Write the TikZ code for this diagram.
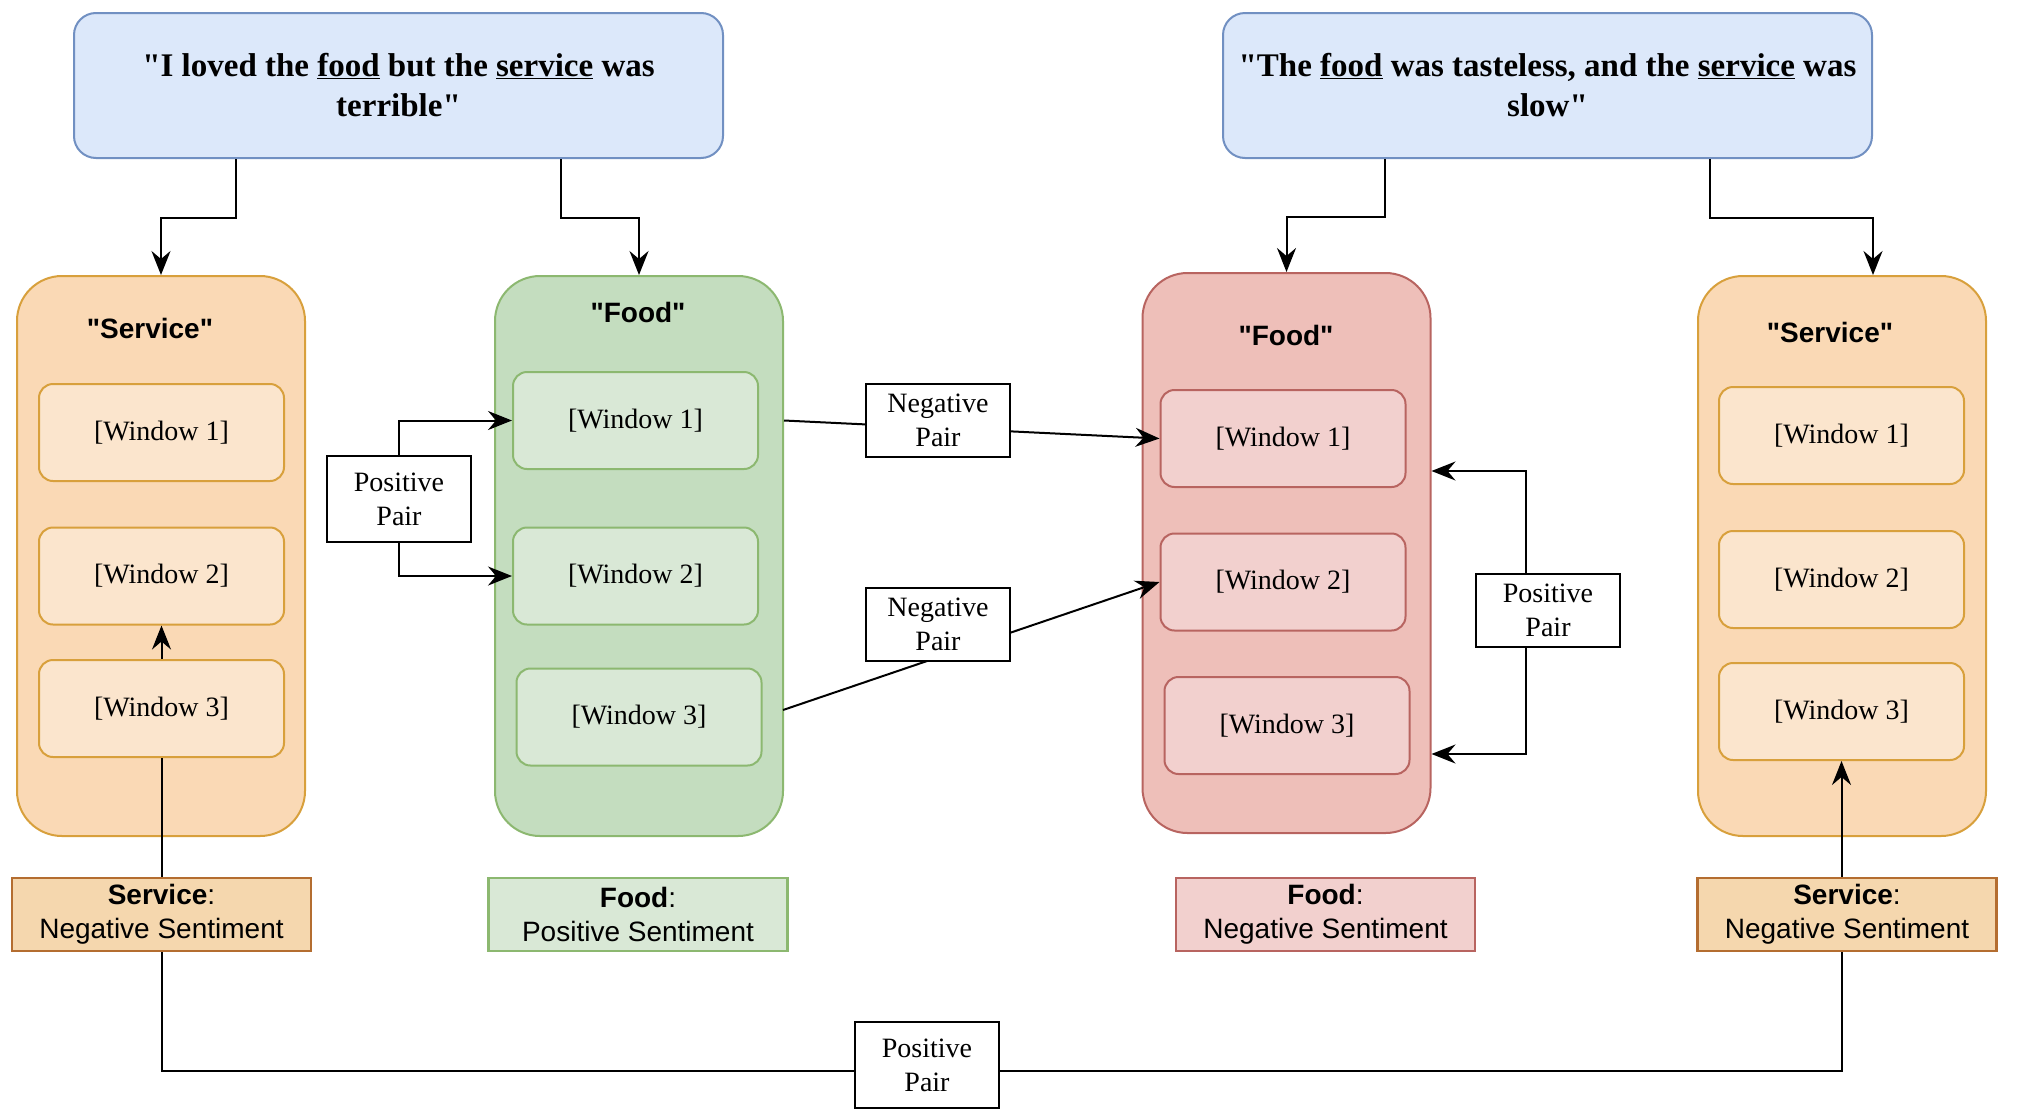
\documentclass[tikz,border=0pt]{standalone}
\usepackage{fontspec}
\setmainfont{Liberation Serif}[Ligatures=TeXOff]
\setsansfont{Liberation Sans}[Ligatures=TeXOff]
\usetikzlibrary{arrows.meta,calc}
\definecolor{sentfill}{HTML}{DCE8FA}
\definecolor{sentdraw}{HTML}{7190C2}
\definecolor{orfill}{HTML}{FAD9B5}
\definecolor{ordraw}{HTML}{D8A03C}
\definecolor{orwin}{HTML}{FBE5CD}
\definecolor{grfill}{HTML}{C4DDBF}
\definecolor{grdraw}{HTML}{8CB870}
\definecolor{grwin}{HTML}{D9E8D6}
\definecolor{rdfill}{HTML}{EEBFB9}
\definecolor{rddraw}{HTML}{B86460}
\definecolor{rdwin}{HTML}{F2D0CE}
\definecolor{seorfill}{HTML}{F5D7AE}
\definecolor{seordraw}{HTML}{B46D30}
\begin{document}
\begin{tikzpicture}[x=1pt,y=-1pt,
 sentence/.style={draw=sentdraw, fill=sentfill, line width=2pt, rounded corners=22pt, minimum width=649pt, minimum height=145pt, align=center, font=\fontsize{33}{40}\selectfont\bfseries, inner sep=0pt},
 container/.style={line width=2pt, rounded corners=45pt, minimum width=288pt, minimum height=560pt, inner sep=0pt},
 win/.style={line width=2pt, rounded corners=14pt, minimum width=245pt, minimum height=97pt, font=\fontsize{28}{34}\selectfont, inner sep=0pt},
 title/.style={font=\sffamily\bfseries\fontsize{28}{34}\selectfont},
 pairbox/.style={draw=black, fill=white, line width=2pt, minimum width=144pt, align=center, font=\fontsize{28}{34}\selectfont, inner sep=0pt},
 senti/.style={line width=2.5pt, minimum width=299pt, minimum height=73pt, align=center, font=\sffamily\fontsize{28}{34}\selectfont, inner sep=0pt},
 tip/.tip={Stealth[length=24pt,width=19pt,inset=8pt]},
 arr/.style={line width=2pt, -tip},
 conn/.style={line width=2pt}]
\fill[white] (0,0) rectangle (2018,1114);
\useasboundingbox (0,0) rectangle (2018,1114);

% sentences
\node[sentence] (S1) at (398.5,85.5) {"I loved the \underline{food} but the \underline{service} was\\terrible"};
\node[sentence] (S2) at (1547.5,85.5) {"The \underline{food} was tasteless, and the \underline{service} was\\slow"};

% containers
\node[container, draw=ordraw, fill=orfill] (C1) at (161,556) {};
\node[container, draw=grdraw, fill=grfill] (C2) at (639,556) {};
\node[container, draw=rddraw, fill=rdfill] (C3) at (1286.5,553) {};
\node[container, draw=ordraw, fill=orfill] (C4) at (1842,556) {};

\node[title] (T1) at (150,328) {"Service"};
\node[title] (T2) at (638,312) {"Food"};
\node[title] (T3) at (1286,335) {"Food"};
\node[title] (T4) at (1830,332) {"Service"};

% windows
\node[win, draw=ordraw, fill=orwin] (L1) at (161.5,432.5) {[Window 1]};
\node[win, draw=ordraw, fill=orwin] (L2) at (161.5,576) {[Window 2]};
\node[win, draw=ordraw, fill=orwin] (L3) at (161.5,708.5) {[Window 3]};
\node[win, draw=grdraw, fill=grwin] (G1) at (635.5,420.5) {[Window 1]};
\node[win, draw=grdraw, fill=grwin] (G2) at (635.5,576) {[Window 2]};
\node[win, draw=grdraw, fill=grwin] (G3) at (639,717) {[Window 3]};
\node[win, draw=rddraw, fill=rdwin] (R1) at (1283,438.5) {[Window 1]};
\node[win, draw=rddraw, fill=rdwin] (R2) at (1283,582) {[Window 2]};
\node[win, draw=rddraw, fill=rdwin] (R3) at (1287,725.5) {[Window 3]};
\node[win, draw=ordraw, fill=orwin] (V1) at (1841.5,435.5) {[Window 1]};
\node[win, draw=ordraw, fill=orwin] (V2) at (1841.5,579.5) {[Window 2]};
\node[win, draw=ordraw, fill=orwin] (V3) at (1841.5,711.5) {[Window 3]};

% sentence -> aspect
\draw[arr] ($(S1.south west)!0.25!(S1.south east)$) -- ++(0,59) -| (C1.north);
\draw[arr] ($(S1.south west)!0.75!(S1.south east)$) -- ++(0,59) -| (C2.north);
\draw[arr] ($(S2.south west)!0.25!(S2.south east)$) -- ++(0,58) -| (C3.north);
\draw[arr] ($(S2.south west)!0.75!(S2.south east)$) -- ++(0,59) -| ($(C4.north)+(31,0)$);

% positive pair (green)
\node[pairbox, minimum height=86pt] (PP1) at (399,499) {Positive\\Pair};
\draw[arr] (PP1.north) |- (G1.west);
\draw[arr] (PP1.south) |- (G2.west);

% negative pairs
\coordinate (n1s) at (C2.east |- G1.west);
\coordinate (n2s) at (783,710);
\draw[arr] (n1s) -- (R1.west);
\draw[arr] (n2s) -- (R2.west);
\node[pairbox, minimum height=73pt] (NP1) at (938,420.5) {Negative\\Pair};
\node[pairbox, minimum height=73pt] (NP2) at (938,624.5) {Negative\\Pair};

% positive pair (red)
\coordinate (p2a) at ($(C3.east)+(0,-82)$);
\coordinate (p2b) at ($(C3.east)+(0,201)$);
\draw[line width=2pt, tip-tip] (p2a) -- ++(94,0) |- (p2b);
\node[pairbox, minimum height=73pt] (PP2) at (1548,610.5) {Positive\\Pair};

% sentiment boxes
\node[senti, draw=seordraw, fill=seorfill] (SE1) at (161.5,914.5) {\textbf{Service}:\\Negative Sentiment};
\node[senti, draw=grdraw, fill=grwin] (SE2) at (638,914.5) {\textbf{Food}:\\Positive Sentiment};
\node[senti, draw=rddraw, fill=rdwin] (SE3) at (1325.5,914.5) {\textbf{Food}:\\Negative Sentiment};
\node[senti, draw=seordraw, fill=seorfill] (SE4) at (1847,914.5) {\textbf{Service}:\\Negative Sentiment};

% bottom connectors
\draw[conn] (L3.south |- SE1.north) -- (L3.south);
\draw[arr] (L3.north) -- (L2.south);
\draw[arr] (V3.south |- SE4.north) -- (V3.south);
\draw[conn] (L3.south |- SE1.south) -- ++(0,119) -| (V3.south |- SE4.south);
\node[pairbox, minimum height=86pt] (PP3) at (927,1065) {Positive\\Pair};
\end{tikzpicture}
\end{document}
